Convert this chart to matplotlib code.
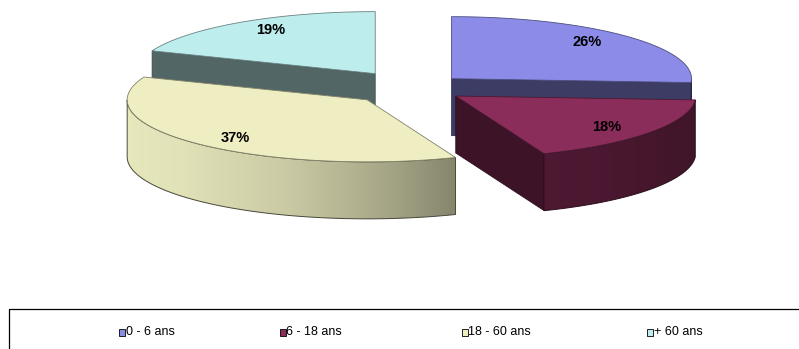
import numpy as np
import matplotlib
matplotlib.use("Agg")
import matplotlib.pyplot as plt
from matplotlib.patches import Polygon, Rectangle
from matplotlib.colors import to_rgb

# ---- data ----
categories = ["0 - 6 ans", "6 - 18 ans", "18 - 60 ans", "+ 60 ans"]
values = [26, 18, 37, 19]
top_colors = ["#8C8CE8", "#8B2D5A", "#EEEEC2", "#BEEDED"]

# ---- layout (pixel space of the figure) ----
W, H = 799, 349
CX, CY = 413, 88          # pie centre
RX, RY = 240, 62          # ellipse radii
DEPTH = 57                # thickness of the pie
explode = [0.22, 0.22, 0.27, 0.28]
legend_left = [119, 280, 462, 647]
legend_y = 332

fig = plt.figure(figsize=(W / 100, H / 100), dpi=100)
ax = fig.add_axes([0, 0, 1, 1])
ax.axis("off")


def shade(color, f):
    r, g, b = to_rgb(color)
    return (r * f, g * f, b * f)


def side_factor(theta):
    th = ((theta + 180) % 360) - 180
    pts_t = [-180, -140, -110, -90, -68, -30, 0]
    pts_f = [0.98, 0.95, 0.85, 0.73, 0.56, 0.49, 0.45]
    return np.interp(th, pts_t, pts_f)


def pt(cx, cy, th, z=0.0):
    r = np.radians(th)
    return (cx + RX * np.cos(r), cy - RY * np.sin(r) + z)


slices = []
start = 90.0
for v in values:
    t1 = start
    t2 = start - v * 3.6
    slices.append((t1, t2))
    start = t2

draw_order = [0, 3, 2, 1]

for k, i in enumerate(draw_order):
    z0 = k * 10
    t1, t2 = slices[i]
    mid = np.radians((t1 + t2) / 2)
    e = explode[i]
    cx = CX + e * RX * np.cos(mid)
    cy = CY - e * RY * np.sin(mid)
    col = top_colors[i]
    cut_col = shade(col, 0.43)

    # cut faces
    faces = []
    if np.cos(np.radians(t1)) < -1e-6:
        faces.append(t1)
    if np.cos(np.radians(t2)) > 1e-6:
        faces.append(t2)
    for th in faces:
        quad = [(cx, cy), pt(cx, cy, th), pt(cx, cy, th, DEPTH), (cx, cy + DEPTH)]
        ax.add_patch(Polygon(quad, closed=True, facecolor=cut_col,
                             edgecolor=shade(col, 0.3), lw=0.5, zorder=z0 + 1))

    # outer curved side (front half only) with a horizontal gradient
    lo, hi = max(t2, -180.0), min(t1, 0.0)
    if hi > lo:
        angs = np.linspace(lo, hi, 200)
        top = [pt(cx, cy, a) for a in angs]
        bot = [pt(cx, cy, a, DEPTH) for a in angs[::-1]]
        side = Polygon(top + bot, closed=True, facecolor="none",
                       edgecolor=shade(col, 0.3), lw=0.7, zorder=z0 + 3)
        ax.add_patch(side)
        xs = [p[0] for p in top + bot]
        ys = [p[1] for p in top + bot]
        x0, x1 = min(xs), max(xs)
        y0, y1 = min(ys), max(ys)
        gx = np.linspace(x0, x1, 300)
        th = -np.degrees(np.arccos(np.clip((gx - cx) / RX, -1, 1)))
        grad = np.array([shade(col, side_factor(t)) for t in th])[None, :, :]
        im = ax.imshow(grad, extent=[x0, x1, y1, y0], aspect="auto",
                       interpolation="bilinear", zorder=z0 + 2)
        im.set_clip_path(side)

    # top face
    arc = np.linspace(t1, t2, 150)
    poly = [(cx, cy)] + [pt(cx, cy, a) for a in arc]
    ax.add_patch(Polygon(poly, closed=True, facecolor=col,
                         edgecolor=shade(col, 0.55), lw=0.6, zorder=z0 + 4))

    # percentage label
    lx = cx + 0.775 * RX * np.cos(mid)
    ly = cy - 0.86 * RY * np.sin(mid)
    ax.text(lx, ly, f"{values[i]}%", ha="center", va="center",
            fontsize=10.5, fontweight="bold", family=["Liberation Sans", "DejaVu Sans"],
            zorder=100)

# legend box
ax.add_patch(Rectangle((8.5, 309), 830, 80, facecolor="none", edgecolor="black",
                       lw=0.9, zorder=50, clip_on=False))
for x0, lab, col in zip(legend_left, categories, top_colors):
    ax.add_patch(Rectangle((x0, legend_y - 3.5), 5.5, 7, facecolor=col,
                           edgecolor="black", lw=0.6, zorder=60))
    ax.text(x0 + 6.5, legend_y, lab, ha="left", va="center", fontsize=9,
            family=["Liberation Sans", "DejaVu Sans"], zorder=60)

ax.set_xlim(0, W)
ax.set_ylim(H, 0)
fig.savefig("out.png", dpi=100)
